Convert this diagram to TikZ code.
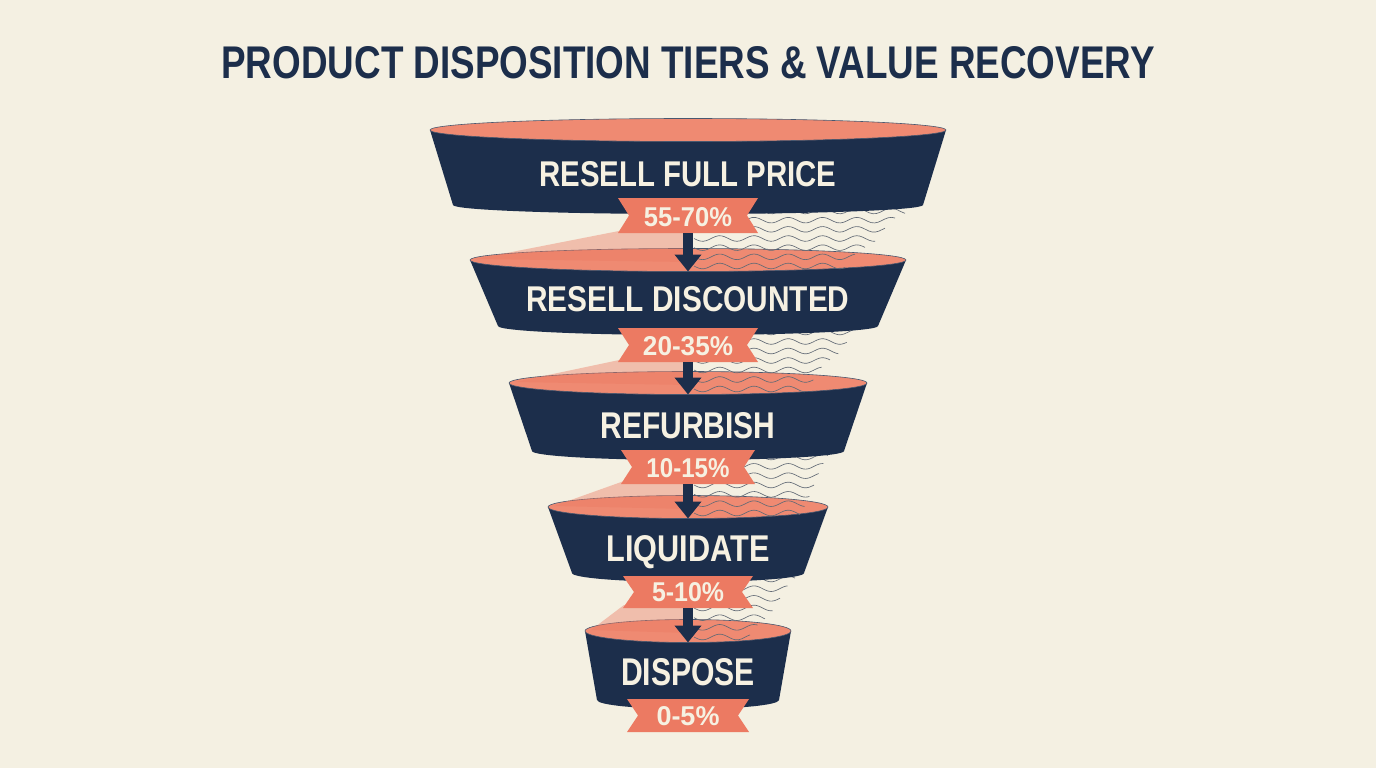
\documentclass[tikz,border=0pt]{standalone}
\usepackage{fontspec}
\setmainfont{Liberation Sans}
\usepackage{graphicx}
\usetikzlibrary{arrows.meta}
\definecolor{bg}{HTML}{F4F0E2}
\definecolor{navy}{HTML}{1C2E4B}
\definecolor{salmon}{HTML}{EC7A62}
\definecolor{salmonL}{HTML}{EF8A72}
\definecolor{cream}{HTML}{F6F1E2}
\definecolor{wavec}{HTML}{626A75}
\tikzset{
  band/.style={fill=navy},
  mouth/.style={fill=salmonL, draw=navy!80, line width=0.6pt},
  wedge/.style={fill=salmon, opacity=0.42},
  wave/.style={draw=wavec, line width=0.65pt},
  ribbonbox/.style={fill=salmon},
  tiertext/.style={anchor=base, inner sep=0pt, text=cream, font=\bfseries},
  titletext/.style={anchor=base, inner sep=0pt, text=navy, font=\bfseries},
  flow/.style={draw=navy, line width=10pt, -{Triangle[width=26pt,length=17pt]}},
}
\begin{document}
\begin{tikzpicture}[x=1pt,y=-1pt]
\fill[bg] (0,0) rectangle (1376,768);
\useasboundingbox (0,0) rectangle (1376,768);

\node[titletext] (title) at (688,78) {\resizebox{933pt}{32pt}{PRODUCT DISPOSITION TIERS \& VALUE RECOVERY}};

% tiers, drawn from bottom to top
\foreach \n/\cy/\rx/\by/\rxb/\cyn/\rxn/\rb/\xa/\xb in {
  5/631/103/700/91/0/0/0/0/0,
  4/507/140/573/116/631/103/608/795/750,
  3/383/179/451/156/507/140/484/828/800,
  2/260/218/326/190/383/179/362/855/805,
  1/130/258/205/235/260/218/233/905/845}{
  \ifnum\n<5
    \fill[wedge] (624,\rb-3) -- (688-\rxn+6,\cyn-1) -- (688,\cyn+2) -- (688,\rb) -- cycle;
    \foreach \k in {0,...,6}{
      \pgfmathsetmacro\yy{\by+6+\k*(\cyn-\by)/6}
      \pgfmathsetmacro\xe{\xa+(\xb-\xa)*\k/6}
      \draw[wave] plot[domain=694:\xe, samples=60, smooth] (\x,{\yy+2.8*sin((\x-694)*10.5)});
    }
  \fi
  \fill[band] (688-\rx,\cy) -- (688-\rxb,\by) arc[start angle=180,end angle=0,x radius=\rxb,y radius=9] -- (688+\rx,\cy) -- cycle;
  \path[mouth] (688,\cy) ellipse[x radius=\rx, y radius=11.5];
  \coordinate (front\n) at (688,\cy+11.5);
}

% tier labels
\foreach \n/\base/\w/\h/\txt in {
  1/186/297/25/RESELL FULL PRICE,
  2/311/323/25/RESELL DISCOUNTED,
  3/438/175/26/REFURBISH,
  4/561/163/26/LIQUIDATE,
  5/685/134/27/DISPOSE}{
  \node[tiertext] (tier\n) at (688,\base) {\resizebox{\w pt}{\h pt}{\txt}};
}

% ribbons
\foreach \n/\t/\b/\hw/\tw/\lab/\base in {
  1/198/233/70/88/55-70\%/226,
  2/328/362/70/90/20-35\%/355,
  3/450/484/67/83/10-15\%/477,
  4/576/608/65/72/5-10\%/601,
  5/699/732/61/63/0-5\%/725}{
  \pgfmathsetmacro\mm{(\t+\b)/2}
  \fill[ribbonbox] (688-\hw,\t) -- (688+\hw,\t) -- (688+\hw-11,\mm) -- (688+\hw,\b) -- (688-\hw,\b) -- (688-\hw+11,\mm) -- cycle;
  \node[tiertext] (rib\n) at (688,\base) {\resizebox{\tw pt}{19pt}{\lab}};
  \coordinate (ribb\n) at (688,\b);
}

% arrows between tiers
\foreach \n/\m in {1/2,2/3,3/4,4/5}{
  \draw[flow] (ribb\n) -- (front\m);
}
\end{tikzpicture}
\end{document}
